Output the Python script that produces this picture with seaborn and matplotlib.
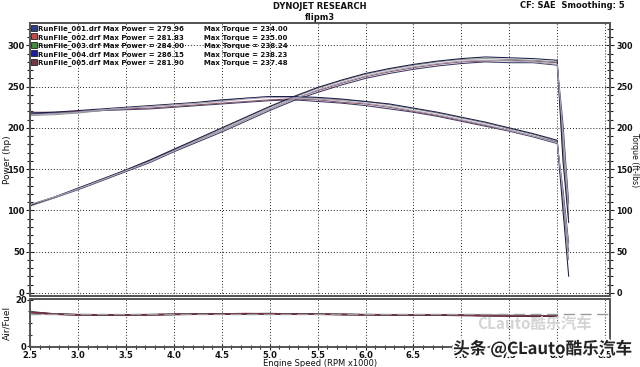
import matplotlib.pyplot as plt
import matplotlib.patheffects as pe
from matplotlib.lines import Line2D
from matplotlib.ticker import MultipleLocator, FormatStrFormatter
import seaborn as sns

sns.set_theme(style="white")
plt.rcParams["font.family"] = ["DejaVu Sans", "Noto Sans CJK SC"]
plt.rcParams["font.weight"] = "bold"
plt.rcParams["text.color"] = "#111111"
plt.rcParams["axes.labelcolor"] = "#111111"
plt.rcParams["xtick.color"] = "#111111"
plt.rcParams["ytick.color"] = "#111111"

# engine speed (RPM x1000)
RPM = [2.5, 2.75, 3.0, 3.25, 3.5, 3.75, 4.0, 4.25, 4.5, 4.75, 5.0, 5.25, 5.5,
       5.75, 6.0, 6.25, 6.5, 6.75, 7.0, 7.25, 7.5, 7.75, 8.0, 8.06, 8.12]

RUN_NAMES = ["RunFile_001.drf", "RunFile_002.drf", "RunFile_003.drf",
             "RunFile_004.drf", "RunFile_005.drf"]
MAX_POWER = [279.96, 281.83, 284.00, 286.15, 281.90]
MAX_TORQUE = [234.00, 235.00, 238.24, 238.23, 237.48]

POWER_001 = [106, 115, 125, 136, 147, 158, 171, 183, 195, 208, 221, 233, 243,
             252, 260, 266, 271, 275, 278, 280, 279, 279, 276, 205, 108]
POWER_002 = [107, 116, 126, 137, 148, 160, 173, 185, 197, 210, 223, 235, 245,
             254, 262, 268, 273, 277, 280, 281, 282, 281, 279, 180, 95]
POWER_003 = [105, 115, 126, 137, 149, 161, 174, 186, 199, 212, 225, 237, 248,
             257, 265, 271, 276, 280, 283, 284, 283, 282, 280, 170, 90]
POWER_004 = [106, 116, 127, 138, 149, 161, 174, 187, 200, 213, 226, 238, 249,
             258, 266, 272, 277, 281, 284, 286, 285, 284, 282, 160, 85]
POWER_005 = [107, 116, 126, 137, 148, 159, 172, 185, 197, 210, 223, 235, 246,
             255, 263, 269, 274, 278, 281, 282, 281, 280, 277, 195, 100]

TORQUE_001 = [217, 218, 219, 221, 222, 223, 225, 227, 229, 231, 233, 234, 232,
              230, 227, 223, 219, 214, 208, 202, 196, 189, 181, 125, 60]
TORQUE_002 = [219, 219, 220, 222, 223, 224, 226, 228, 230, 232, 234, 235, 234,
              231, 229, 225, 220, 215, 209, 203, 197, 190, 183, 115, 50]
TORQUE_003 = [215, 216, 218, 221, 224, 226, 228, 230, 233, 236, 238, 237, 236,
              234, 232, 228, 223, 218, 212, 206, 199, 192, 184, 110, 40]
TORQUE_004 = [218, 219, 221, 223, 225, 227, 229, 231, 234, 236, 238, 238, 237,
              235, 232, 229, 224, 219, 213, 207, 200, 193, 185, 100, 20]
TORQUE_005 = [216, 217, 219, 222, 224, 226, 228, 230, 232, 235, 237, 236, 235,
              233, 230, 226, 221, 216, 210, 204, 197, 190, 182, 120, 55]

# air/fuel ratio up to 8.0
AFR_001 = [14.8, 13.9, 13.6, 13.6, 13.5, 13.6, 13.7, 13.8, 13.9, 14.0, 14.0, 13.9,
           13.8, 13.7, 13.6, 13.6, 13.5, 13.5, 13.4, 13.3, 13.2, 13.1, 13.1]
AFR_002 = [14.5, 13.8, 13.5, 13.5, 13.5, 13.6, 13.8, 13.9, 14.0, 14.1, 14.0, 13.9,
           13.8, 13.7, 13.6, 13.5, 13.5, 13.4, 13.3, 13.2, 13.1, 13.0, 13.0]
AFR_003 = [14.9, 14.0, 13.7, 13.6, 13.6, 13.7, 13.8, 13.8, 14.0, 14.1, 14.1, 14.0,
           13.9, 13.7, 13.6, 13.6, 13.5, 13.5, 13.4, 13.3, 13.3, 13.2, 13.1]
AFR_004 = [14.6, 13.8, 13.6, 13.5, 13.5, 13.6, 13.7, 13.9, 14.0, 14.0, 14.1, 13.9,
           13.8, 13.7, 13.7, 13.6, 13.5, 13.4, 13.3, 13.2, 13.1, 13.0, 12.9]
AFR_005 = [14.7, 13.9, 13.6, 13.6, 13.5, 13.6, 13.8, 13.8, 13.9, 14.0, 14.0, 13.9,
           13.8, 13.8, 13.6, 13.6, 13.5, 13.5, 13.4, 13.3, 13.2, 13.2, 13.1]
AFR_TARGET = 13.8

POWER = [POWER_001, POWER_002, POWER_003, POWER_004, POWER_005]
TORQUE = [TORQUE_001, TORQUE_002, TORQUE_003, TORQUE_004, TORQUE_005]
AFR = [AFR_001, AFR_002, AFR_003, AFR_004, AFR_005]

LINE_COLORS = ["#3a3a66", "#8a5566", "#8c9490", "#1c1c48", "#aaa2b6"]
AFR_COLORS = ["#3a2a40", "#9a2030", "#555555", "#2a2a50", "#7a3040"]
ICON_COLORS = ["#2c3f8f", "#cc4444", "#3d8f3d", "#1a1aaa", "#7a3444"]

fig = plt.figure(figsize=(6.4, 3.67), dpi=100)
ax = fig.add_axes([0.047, 0.193, 0.906, 0.744])
ax_afr = fig.add_axes([0.047, 0.054, 0.906, 0.131])

for power, torque, color in zip(POWER, TORQUE, LINE_COLORS):
    sns.lineplot(x=RPM, y=power, ax=ax, color=color, lw=0.75)
    sns.lineplot(x=RPM, y=torque, ax=ax, color=color, lw=0.75)

for afr, color in zip(AFR, AFR_COLORS):
    sns.lineplot(x=RPM[:len(afr)], y=afr, ax=ax_afr, color=color, lw=1.0)
ax_afr.axhline(AFR_TARGET, color="#999999", lw=1.0, dashes=(8, 4))

spine_color = "#555555"
for a in (ax, ax_afr):
    a.set_xlim(2.5, 8.55)
    a.xaxis.set_major_locator(MultipleLocator(0.5))
    a.grid(True, axis="x", which="major", color="#222222", lw=0.7, ls=(0, (1, 2)))
    for s in a.spines.values():
        s.set_color(spine_color)
        s.set_linewidth(1.4)

# main panel
ax.set_ylim(-4, 327)
ax.yaxis.set_major_locator(MultipleLocator(50))
ax.yaxis.set_minor_locator(MultipleLocator(10))
ax.grid(True, axis="y", which="major", color="#222222", lw=0.7, ls=(0, (1, 2)))
ax.tick_params(axis="x", which="both", bottom=False, labelbottom=False)
ax.tick_params(axis="y", which="major", left=True, direction="inout", length=6,
               width=0.8, labelsize=6, pad=1, color="#222222")
ax.tick_params(axis="y", which="minor", left=True, direction="inout", length=4,
               width=0.8, color="#222222")
ax.set_ylabel("Power (hp)", fontsize=6.5)
ax.yaxis.set_label_coords(-0.032, 0.5)

ax_tq = ax.twinx()
ax_tq.set_ylim(ax.get_ylim())
ax_tq.grid(False)
ax_tq.yaxis.set_major_locator(MultipleLocator(50))
ax_tq.yaxis.set_minor_locator(MultipleLocator(10))
ax_tq.tick_params(axis="y", which="major", right=True, direction="inout", length=6,
                  width=0.8, labelsize=5.8, pad=1.5, color="#222222")
ax_tq.tick_params(axis="y", which="minor", right=True, direction="inout", length=4,
                  width=0.8, color="#222222")
for s in ax_tq.spines.values():
    s.set_color(spine_color)
    s.set_linewidth(1.4)
ax_tq.set_ylabel("Torque (ft-lbs)", fontsize=5.6, rotation=-90)
ax_tq.yaxis.set_label_coords(1.0495, 0.5)

handles = [Line2D([], [], marker="s", ls="none", markersize=4.5,
                  markerfacecolor=c, markeredgecolor="#222222", markeredgewidth=0.6)
           for c in ICON_COLORS]
labels = [f"{n} Max Power = {p:.2f}        Max Torque = {t:.2f}"
          for n, p, t in zip(RUN_NAMES, MAX_POWER, MAX_TORQUE)]
ax.legend(handles, labels, loc="upper left", frameon=False,
          prop={"size": 5.0, "weight": "bold"}, handlelength=0.6,
          handletextpad=0.3, labelspacing=0.22, borderaxespad=0.2, borderpad=0.1)

# air/fuel panel
ax_afr.set_ylim(-0.3, 20.3)
ax_afr.set_yticks([0, 20])
ax_afr.yaxis.set_minor_locator(MultipleLocator(5))
ax_afr.xaxis.set_minor_locator(MultipleLocator(0.1))
ax_afr.xaxis.set_major_formatter(FormatStrFormatter("%.1f"))
ax_afr.tick_params(axis="both", which="major", direction="inout", length=5,
                   width=0.8, labelsize=6, pad=0, color="#222222",
                   bottom=True, left=True)
ax_afr.tick_params(axis="both", which="minor", direction="inout", length=3,
                   width=0.8, color="#222222", bottom=True, left=True)
ax_afr.set_xlabel("Engine Speed (RPM x1000)", fontsize=6, labelpad=-0.5)
ax_afr.set_ylabel("Air/Fuel", fontsize=6.5)
ax_afr.yaxis.set_label_coords(-0.032, 0.5)

# header
fig.text(0.5, 0.982, "DYNOJET RESEARCH", ha="center", va="center", fontsize=6)
fig.text(0.5, 0.953, "flipm3", ha="center", va="center", fontsize=6)
fig.text(0.812, 0.984, "CF: SAE  Smoothing: 5", ha="left", va="center", fontsize=6)

# watermark
fig.text(0.745, 0.118, "CLauto酷乐汽车", ha="left", va="center", fontsize=11,
         color="#d4d4d4", family=["Noto Sans CJK SC", "DejaVu Sans"])
fig.text(0.708, 0.05, "头条 @CLauto酷乐汽车", ha="left", va="center", fontsize=12,
         color="#222222", family=["Noto Sans CJK SC", "DejaVu Sans"],
         path_effects=[pe.withStroke(linewidth=2.5, foreground="white")])

fig.savefig("out.png", dpi=100)
